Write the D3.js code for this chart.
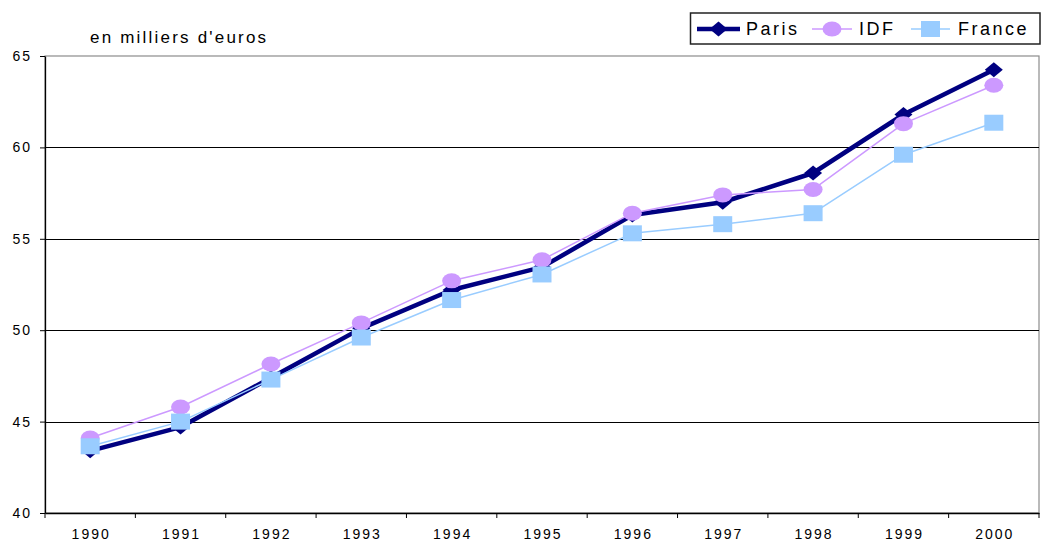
<!DOCTYPE html>
<html>
<head>
<meta charset="utf-8">
<script src="https://cdn.jsdelivr.net/npm/d3@7"></script>
<style>
  html, body { margin: 0; padding: 0; background: #fff; }
  svg { display: block; font-family: "Liberation Sans", Arial, sans-serif; }
</style>
</head>
<body>
<svg id="chart" width="1042" height="542"></svg>
<script>
// Revenu moyen, en milliers d'euros
const years = ["1990","1991","1992","1993","1994","1995","1996","1997","1998","1999","2000"];
const paris  = [43.4, 44.7, 47.4, 50.1, 52.2, 53.45, 56.3, 57.0, 58.6, 61.8, 64.25];
const idf    = [44.1, 45.8, 48.15, 50.4, 52.7, 53.85, 56.4, 57.4, 57.7, 61.3, 63.4];
const france = [43.65, 45.0, 47.3, 49.6, 51.65, 53.05, 55.3, 55.8, 56.4, 59.6, 61.35];
const yTicks = [40, 45, 50, 55, 60, 65];
const seriesNames = ["Paris", "IDF", "France"];
const unitLabel = "en milliers d'euros";

const svg = d3.select("#chart");
const plot = { left: 45, right: 1039, top: 56, bottom: 513 };

const x = d3.scaleBand().domain(years).range([plot.left, plot.right]).padding(0);
const y = d3.scaleLinear().domain([40, 65]).range([plot.bottom, plot.top]);
const cx = d => x(d) + x.bandwidth() / 2;

// plot area frame
svg.append("rect")
  .attr("x", plot.left).attr("y", plot.top)
  .attr("width", plot.right - plot.left).attr("height", plot.bottom - plot.top)
  .attr("fill", "#fff").attr("stroke", "#8c8c8c").attr("stroke-width", 1.2);

// horizontal gridlines
svg.append("g").selectAll("line")
  .data(yTicks.filter(v => v > 40 && v < 65))
  .join("line")
  .attr("x1", plot.left).attr("x2", plot.right)
  .attr("y1", d => Math.round(y(d)) + 0.5).attr("y2", d => Math.round(y(d)) + 0.5)
  .attr("stroke", "#000").attr("stroke-width", 1);

// y axis
const yAxis = svg.append("g")
  .attr("transform", `translate(${plot.left},0)`)
  .call(d3.axisLeft(y).tickValues(yTicks).tickSize(5).tickSizeOuter(0).tickPadding(8).tickFormat(d3.format("d")));
yAxis.select(".domain").attr("stroke", "#000").attr("stroke-width", 1.3);
yAxis.selectAll(".tick line").attr("stroke", "#000");
yAxis.selectAll(".tick text")
  .attr("font-size", 14).attr("fill", "#000")
  .attr("letter-spacing", "2px")
  .attr("font-family", "Liberation Sans, Arial, sans-serif");

// x axis: labels centred in each band, tick marks on band boundaries
const xAxis = svg.append("g")
  .attr("transform", `translate(0,${plot.bottom})`)
  .call(d3.axisBottom(x).tickSize(0).tickPadding(16));
xAxis.select(".domain").attr("stroke", "#000").attr("stroke-width", 1.3);
xAxis.selectAll(".tick text")
  .attr("font-size", 14).attr("fill", "#000")
  .attr("letter-spacing", "2px")
  .attr("dx", "1px")
  .attr("font-family", "Liberation Sans, Arial, sans-serif");
xAxis.append("g").selectAll("line")
  .data(years.concat(["end"]))
  .join("line")
  .attr("x1", (d, i) => i < years.length ? x(d) : plot.right)
  .attr("x2", (d, i) => i < years.length ? x(d) : plot.right)
  .attr("y1", 0).attr("y2", 5)
  .attr("stroke", "#000");

// unit label
svg.append("text")
  .attr("x", 90).attr("y", 42.5)
  .attr("font-size", 17).attr("letter-spacing", "2.2px")
  .attr("fill", "#000")
  .text(unitLabel);

// marker shapes
function drawMarker(g, type, color) {
  if (type === "diamond") {
    g.append("path").attr("d", "M0,-7.5 L9,0 L0,7.5 L-9,0 Z").attr("fill", color);
  } else if (type === "circle") {
    g.append("ellipse").attr("rx", 9.5).attr("ry", 7.5).attr("fill", color);
  } else {
    g.append("rect").attr("x", -9.5).attr("y", -8).attr("width", 19).attr("height", 16).attr("fill", color);
  }
}

const series = [
  { name: seriesNames[0], values: paris,  color: "#000080", width: 4.5, marker: "diamond" },
  { name: seriesNames[1], values: idf,    color: "#cc99ff", width: 1.5, marker: "circle" },
  { name: seriesNames[2], values: france, color: "#99ccff", width: 1.5, marker: "square" }
];

const line = d3.line().x((d, i) => cx(years[i])).y(d => y(d));

series.forEach(s => {
  const g = svg.append("g");
  g.append("path")
    .attr("d", line(s.values))
    .attr("fill", "none")
    .attr("stroke", s.color)
    .attr("stroke-width", s.width)
    .attr("stroke-linejoin", "round");
  s.values.forEach((v, i) => {
    const m = g.append("g").attr("transform", `translate(${cx(years[i])},${y(v)})`);
    drawMarker(m, s.marker, s.color);
  });
});

// legend
const legend = svg.append("g");
legend.append("rect")
  .attr("x", 690.5).attr("y", 13).attr("width", 349.5).attr("height", 31)
  .attr("fill", "#fff").attr("stroke", "#222").attr("stroke-width", 1.5);
const legendItems = [
  { x1: 697, x2: 740, tx: 746 },
  { x1: 812, x2: 852, tx: 859 },
  { x1: 911, x2: 950, tx: 958 }
];
series.forEach((s, i) => {
  const it = legendItems[i];
  const ly = 29;
  legend.append("line")
    .attr("x1", it.x1).attr("x2", it.x2).attr("y1", ly).attr("y2", ly)
    .attr("stroke", s.color).attr("stroke-width", s.width);
  const m = legend.append("g").attr("transform", `translate(${(it.x1 + it.x2) / 2},${ly})`);
  drawMarker(m, s.marker, s.color);
  legend.append("text")
    .attr("x", it.tx).attr("y", 35)
    .attr("font-size", 18).attr("letter-spacing", "2.5px")
    .attr("fill", "#000")
    .text(s.name);
});
</script>
</body>
</html>
